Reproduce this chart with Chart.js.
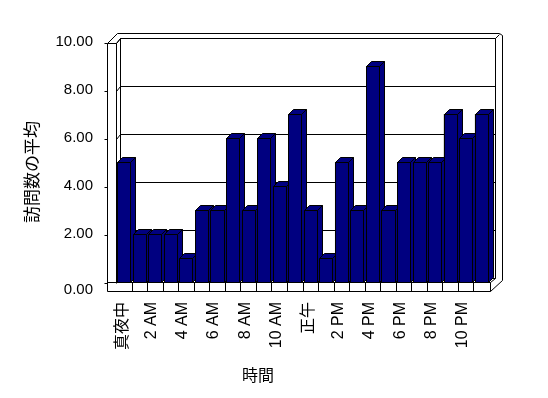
<!DOCTYPE html>
<html><head><meta charset="utf-8">
<script src="https://cdn.jsdelivr.net/npm/chart.js@4/dist/chart.umd.min.js"></script>
<style>html,body{margin:0;padding:0;background:#fff}canvas{display:block}</style>
</head><body>
<canvas id="c" width="548" height="398"></canvas>
<script>
const categories = ['真夜中','1 AM','2 AM','3 AM','4 AM','5 AM','6 AM','7 AM','8 AM','9 AM','10 AM','11 AM',
                    '正午','1 PM','2 PM','3 PM','4 PM','5 PM','6 PM','7 PM','8 PM','9 PM','10 PM','11 PM'];
const visits = [5,2,2,2,1,3,3,6,3,6,4,7,3,1,5,3,9,3,5,5,5,7,6,7];
const yTicks = [0,2,4,6,8,10];
const yTitle = '訪問数の平均';
const xTitle = '時間';

const LATIN = "'Liberation Sans', Arial, 'Noto Sans CJK JP', sans-serif";
const CJK = "'Noto Sans CJK JP', sans-serif";
const NAVY = '#000080';
const D = 5;

function poly(ctx, pts, fill) {
  ctx.beginPath();
  ctx.moveTo(pts[0][0] + .5, pts[0][1] + .5);
  for (let i = 1; i < pts.length; i++) ctx.lineTo(pts[i][0] + .5, pts[i][1] + .5);
  if (fill) { ctx.closePath(); ctx.fillStyle = fill; ctx.fill(); }
  ctx.stroke();
}

const box3d = {
  id: 'box3d',
  beforeDatasetsDraw(chart) {
    const ctx = chart.ctx, ys = chart.scales.y, xs = chart.scales.x;
    const L = Math.round(xs.left), R = Math.round(xs.right);
    const Y = v => Math.round(ys.getPixelForValue(v));
    const Y0 = Y(0), Y10 = Y(10);
    ctx.save();
    ctx.strokeStyle = '#000'; ctx.lineWidth = 1;
    yTicks.forEach(v => {
      const y = Y(v);
      poly(ctx, [[L, y + 1], [L + 4, y - 4], [R + 6, y - 4]]);
      poly(ctx, [[L - 12, y + 1], [L - 9, y + 1]]);
    });
    poly(ctx, [[L + 4, Y0 - 4], [L + 4, Y10 - 4], [R + 6, Y10 - 4], [R + 6, Y0 - 4]]);
    poly(ctx, [[L - 9, Y10 + 1], [L + 1, Y10 - 9], [R + 10, Y10 - 9], [R + 13, Y10 - 7], [R + 13, Y0 - 2], [R + 1, Y0 + 9]]);
    poly(ctx, [[R + 6, Y10 - 4], [R + 10, Y10 - 8]]);
    poly(ctx, [[L - 9, Y0 + 9], [L - 9, Y10 + 1], [L, Y10 + 1], [L, Y0]]);
    poly(ctx, [[L, Y10 + 1], [L + 4, Y10 - 4]]);
    poly(ctx, [[L - 9, Y0], [R + 1, Y0], [R + 1, Y0 + 9], [L - 9, Y0 + 9]]);
    poly(ctx, [[R + 1, Y0], [R + 6, Y0 - 4]]);
    const n = categories.length;
    for (let k = 1; k < n; k++) {
      const xx = Math.round((xs.getPixelForValue(k - 1) + xs.getPixelForValue(k)) / 2);
      poly(ctx, [[xx, Y0], [xx, Y0 + 9]]);
    }
    ctx.restore();
  },
  afterDatasetsDraw(chart) {
    const ctx = chart.ctx;
    const meta = chart.getDatasetMeta(0);
    ctx.save();
    ctx.strokeStyle = '#000'; ctx.lineWidth = 1;
    meta.data.forEach(bar => {
      const p = bar.getProps(['x', 'y', 'base', 'width'], true);
      const x0 = Math.round(p.x - p.width / 2), x1 = Math.round(p.x + p.width / 2);
      const yt = Math.round(p.y), yb = Math.round(p.base);
      poly(ctx, [[x1, yt], [x1 + D, yt - D], [x1 + D, yb - D], [x1, yb]], NAVY);
      poly(ctx, [[x0, yt], [x0 + D, yt - D], [x1 + D, yt - D], [x1, yt]], NAVY);
      poly(ctx, [[x0, yt], [x1, yt], [x1, yb], [x0, yb]], NAVY);
    });
    ctx.restore();
  },
  afterDraw(chart) {
    const ctx = chart.ctx, ys = chart.scales.y, xs = chart.scales.x;
    ctx.save();
    ctx.font = '15px ' + LATIN;
    ctx.fillStyle = '#000';
    ctx.textAlign = 'right';
    ctx.textBaseline = 'middle';
    ctx.fillText((0).toFixed(2), Math.round(xs.left) - 23, Math.round(ys.getPixelForValue(0)) + 8);
    ctx.restore();
  }
};

new Chart(document.getElementById('c'), {
  type: 'bar',
  data: {
    labels: categories,
    datasets: [{
      data: visits,
      backgroundColor: NAVY,
      borderColor: '#000',
      borderWidth: 1,
      barPercentage: 0.84,
      categoryPercentage: 1.0
    }]
  },
  options: {
    responsive: false,
    animation: false,
    layout: { padding: { left: 27, right: 59, top: 42, bottom: 13.4 } },
    plugins: {
      legend: { display: false },
      tooltip: { enabled: false },
      title: {
        display: true, position: 'bottom', text: xTitle, color: '#000',
        font: { family: CJK, size: 16, weight: 'normal', lineHeight: 1.2 },
        padding: 0
      }
    },
    scales: {
      x: {
        grid: { display: false, drawTicks: false },
        border: { display: false },
        ticks: {
          autoSkip: false, maxRotation: 90, minRotation: 90, padding: 0, labelOffset: -3,
          color: '#000',
          font: c => {
            const lab = categories[c.index] || '';
            return /[^\x00-\x7f]/.test(lab) ? { family: CJK, size: 16 } : { family: LATIN, size: 16 };
          },
          callback: (v, i) => (i % 2 === 0 ? categories[i] : '')
        },
        afterFit: s => { s.height = 63.4; }
      },
      y: {
        min: -20 / 24, max: 10,
        afterBuildTicks: s => { s.ticks = yTicks.map(v => ({ value: v })); },
        grid: { display: false, drawTicks: false },
        border: { display: false },
        ticks: {
          padding: 23, font: { family: LATIN, size: 15 },
          color: c => (c.tick && c.tick.value === 0 ? 'rgba(0,0,0,0)' : '#000'),
          callback: v => Number(v).toFixed(2)
        },
        title: {
          display: true, text: yTitle, color: '#000', padding: 0,
          font: { family: CJK, size: 17, lineHeight: 0.5 }
        },
        afterFit: s => { s.width = 89; }
      }
    }
  },
  plugins: [box3d]
});
</script>
</body></html>
